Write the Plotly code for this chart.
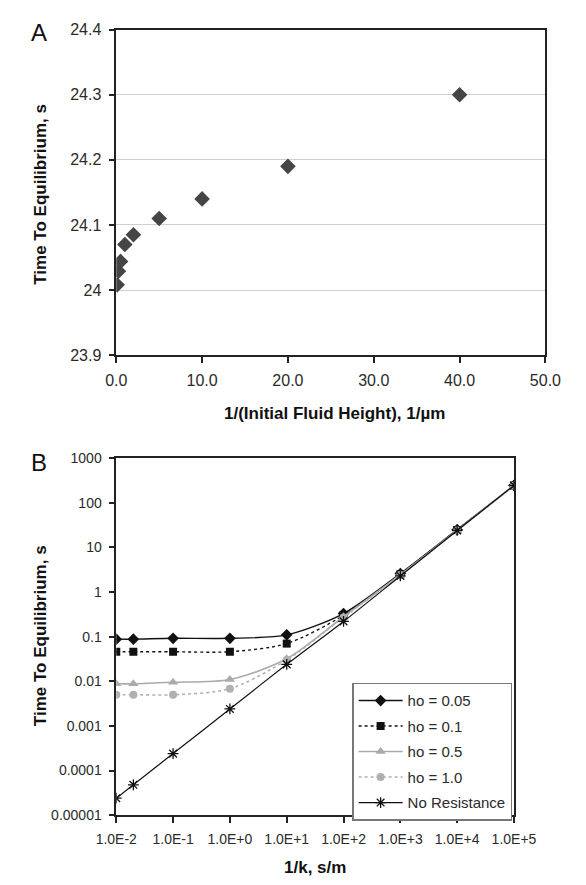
import plotly.graph_objects as go

# ---------------- Panel A data ----------------
a_x = [0.1, 0.25, 0.5, 1, 2, 5, 10, 20, 40]
a_y = [24.008, 24.029, 24.044, 24.070, 24.085, 24.110, 24.140, 24.190, 24.300]
a_ytickvals = [23.9, 24.0, 24.1, 24.2, 24.3, 24.4]
a_yticktext = ["23.9", "24", "24.1", "24.2", "24.3", "24.4"]
a_xtickvals = [0, 10, 20, 30, 40, 50]
a_xticktext = ["0.0", "10.0", "20.0", "30.0", "40.0", "50.0"]

# ---------------- Panel B data ----------------
b_x = [0.01, 0.02, 0.1, 1, 10, 100, 1000, 10000, 100000]
ho_005 = [0.088, 0.088, 0.092, 0.092, 0.11, 0.33, 2.6, 25, 245]
ho_01 = [0.046, 0.046, 0.046, 0.046, 0.070, 0.30, 2.5, 24.5, 245]
ho_05 = [0.0088, 0.0088, 0.0095, 0.011, 0.032, 0.28, 2.45, 24.2, 243]
ho_10 = [0.0050, 0.0050, 0.0050, 0.0068, 0.030, 0.27, 2.4, 24, 242]
no_res = [2.4e-5, 4.8e-5, 2.4e-4, 2.4e-3, 0.024, 0.22, 2.3, 24, 245]
b_xtickvals = [1e-2, 1e-1, 1e0, 1e1, 1e2, 1e3, 1e4, 1e5]
b_xticktext = ["1.0E-2", "1.0E-1", "1.0E+0", "1.0E+1", "1.0E+2", "1.0E+3", "1.0E+4", "1.0E+5"]
b_ytickvals = [1e-5, 1e-4, 1e-3, 1e-2, 1e-1, 1, 10, 100, 1000]
b_yticktext = ["0.00001", "0.0001", "0.001", "0.01", "0.1", "1", "10", "100", "1000"]
series_names = ["ho = 0.05", "ho = 0.1", "ho = 0.5", "ho = 1.0", "No Resistance"]

W, H = 586, 885
FONT = "Arial, Liberation Sans, sans-serif"
AX = "#222222"


def fx(px):
    return px / W


def fy(py):
    return 1 - py / H


fig = go.Figure()

# Panel A scatter
fig.add_trace(go.Scatter(
    x=a_x, y=a_y, mode="markers", xaxis="x", yaxis="y", showlegend=False,
    marker=dict(symbol="diamond", size=12, color="#454545"),
))

styles = [
    dict(line=dict(color="#111111", width=1.4, dash="solid"), marker=dict(symbol="diamond", size=9, color="#111111")),
    dict(line=dict(color="#111111", width=1.4, dash="dot"), marker=dict(symbol="square", size=8, color="#111111")),
    dict(line=dict(color="#aaaaaa", width=1.6, dash="solid"), marker=dict(symbol="triangle-up", size=9, color="#aaaaaa")),
    dict(line=dict(color="#b0b0b0", width=1.6, dash="dot"), marker=dict(symbol="circle", size=8, color="#b0b0b0")),
    dict(line=dict(color="#111111", width=1.2, dash="solid"), marker=dict(symbol="asterisk-open", size=9, color="#111111", line=dict(width=1.3, color="#111111"))),
]
for name, ys, st in zip(series_names, [ho_005, ho_01, ho_05, ho_10, no_res], styles):
    fig.add_trace(go.Scatter(
        x=b_x, y=ys, mode="lines+markers", name=name, xaxis="x2", yaxis="y2",
        line=dict(shape="spline", smoothing=0.8, **st["line"]), marker=st["marker"],
        legendgroup=name,
    ))

common = dict(showline=True, linecolor=AX, linewidth=1.5, mirror=True, ticks="outside",
              ticklen=6, tickcolor=AX, tickwidth=1.5, zeroline=False,
              tickfont=dict(family=FONT, size=16, color="#2a2a2a"))

fig.update_layout(
    width=W, height=H, autosize=False,
    margin=dict(l=0, r=0, t=0, b=0),
    paper_bgcolor="white", plot_bgcolor="white",
    font=dict(family=FONT),
    xaxis=dict(domain=[fx(103), fx(567)], anchor="y", range=[0, 50],
               tickvals=a_xtickvals, ticktext=a_xticktext, showgrid=False,
               ticklabelstandoff=4, **common),
    yaxis=dict(domain=[fy(354), fy(22)], anchor="x", range=[23.9, 24.4],
               tickvals=a_ytickvals, ticktext=a_yticktext, showgrid=True,
               gridcolor="#cfcfcf", gridwidth=1, ticklabelstandoff=4, **common),
    xaxis2=dict(domain=[fx(103), fx(533)], anchor="y2", type="log", range=[-2, 5],
                tickvals=b_xtickvals, ticktext=b_xticktext, showgrid=False,
                ticklabelstandoff=4,
                **{**common, "tickfont": dict(family=FONT, size=14, color="#2a2a2a")}),
    yaxis2=dict(domain=[fy(823), fy(459)], anchor="x2", type="log", range=[-5, 3],
                tickvals=b_ytickvals, ticktext=b_yticktext, showgrid=False,
                ticklabelstandoff=4,
                **{**common, "tickfont": dict(family=FONT, size=14, color="#2a2a2a")}),
    legend=dict(x=fx(358), y=fy(688), xanchor="left", yanchor="top",
                bgcolor="white", bordercolor="#777777", borderwidth=1.5,
                font=dict(family=FONT, size=15, color="#2a2a2a"),
                tracegroupgap=3, itemwidth=44),
)

ann = [
    dict(text="A", x=fx(20), y=fy(25), font=dict(size=24, color="#111")),
    dict(text="B", x=fx(19), y=fy(463), font=dict(size=24, color="#111")),
    dict(text="<b>1/(Initial Fluid Height), 1/µm</b>", x=fx(339), y=fy(413),
         font=dict(size=17, color="#111")),
    dict(text="<b>Time To Equilibrium, s</b>", x=fx(21), y=fy(190), textangle=-90,
         font=dict(size=17, color="#111")),
    dict(text="<b>1/k, s/m</b>", x=fx(318), y=fy(876), font=dict(size=17, color="#111")),
    dict(text="<b>Time To Equilibrium, s</b>", x=fx(21), y=fy(640), textangle=-90,
         font=dict(size=17, color="#111")),
]
for a in ann:
    a.update(xref="paper", yref="paper", showarrow=False, xanchor="center", yanchor="middle")
    a["font"]["family"] = FONT
fig.update_layout(annotations=ann)

fig.write_html("out.html", config={"displayModeBar": False},
               post_script="document.body.style.margin='0';document.body.style.overflow='hidden';")
